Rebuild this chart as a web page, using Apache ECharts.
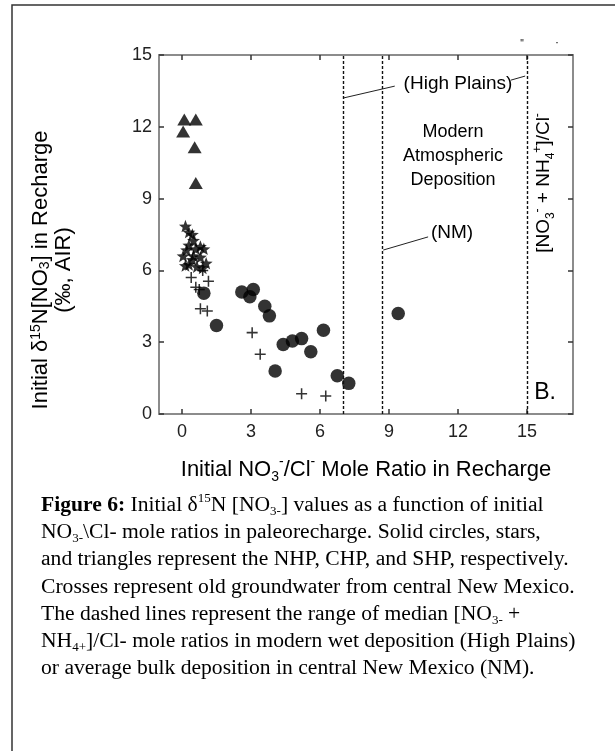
<!DOCTYPE html>
<html>
<head>
<meta charset="utf-8">
<script src="https://cdn.jsdelivr.net/npm/echarts@6/dist/echarts.min.js"></script>
<style>
html, body { margin: 0; padding: 0; background: #fff; }
#chart { width: 615px; height: 751px; }
</style>
</head>
<body>
<div id="chart"></div>
<script>
// tick labels
var xTicks = [0, 3, 6, 9, 12, 15];
var yTicks = [0, 3, 6, 9, 12, 15];

// NHP - solid circles
var nhpCircles = [
    [0.95, 5.05], [1.5, 3.7], [2.6, 5.1], [3.1, 5.2], [2.95, 4.9], [3.6, 4.5],
    [3.8, 4.1], [4.05, 1.8], [4.4, 2.9], [4.8, 3.05], [5.2, 3.15], [5.6, 2.6],
    [6.15, 3.5], [6.75, 1.6], [7.25, 1.28], [9.4, 4.2]
];
// CHP - stars
var chpStars = [
    [0.15, 7.85], [0.3, 7.6], [0.45, 7.5], [0.5, 7.25], [0.8, 7.0], [0.2, 6.85],
    [0.95, 6.9], [0.05, 6.6], [0.5, 6.6], [0.8, 6.55], [1.05, 6.3], [0.3, 6.25],
    [0.65, 6.15], [0.45, 6.45], [0.3, 7.05], [0.6, 6.9], [0.15, 6.2], [0.9, 6.1]
];
// SHP - triangles
var shpTriangles = [[0.1, 12.3], [0.6, 12.3], [0.05, 11.8], [0.55, 11.15], [0.6, 9.65]];
// central New Mexico - crosses
var nmCrosses = [
    [0.4, 5.7], [1.15, 5.55], [0.75, 5.2], [0.6, 5.3], [0.8, 4.4], [1.1, 4.3],
    [0.9, 6.0], [3.05, 3.4], [3.4, 2.5], [5.2, 0.85], [6.25, 0.75]
];
// dashed deposition ratios
var depositionLines = [7.0, 8.7, 15.0];
// leader lines for the annotations
var leaderLines = [
    [[7.0, 13.2], [9.25, 13.7]],
    [[14.3, 13.95], [14.92, 14.12]],
    [[8.75, 6.85], [10.7, 7.4]]
];

var captionLines = [
    '{b|Figure 6:}{t| Initial δ}{sup|15}{t|N [NO}{sub|3-}{t|] values as a function of initial}',
    '{t|NO}{sub|3-}{t|\\Cl- mole ratios in paleorecharge. Solid circles, stars,}',
    '{t|and triangles represent the NHP, CHP, and SHP, respectively.}',
    '{t|Crosses represent old groundwater from central New Mexico.}',
    '{t|The dashed lines represent the range of median [NO}{sub|3-}{t| +}',
    '{t|NH}{sub|4+}{t|]/Cl- mole ratios in modern wet deposition (High Plains)}',
    '{t|or average bulk deposition in central New Mexico (NM).}'
];

var sans = '"Liberation Sans", Arial, sans-serif';
var serif = '"Liberation Serif", "Times New Roman", serif';
var ink = '#222';
var frameGray = '#8c8c8c';

function richSet(family, size, color, lhScale) {
    var lh = Math.round(size * (lhScale || 1.3));
    var small = Math.round(size * 0.62);
    return {
        t: { fontFamily: family, fontSize: size, color: color, lineHeight: lh },
        b: { fontFamily: family, fontSize: size, color: color, lineHeight: lh, fontWeight: 'bold' },
        sup: { fontFamily: family, fontSize: small, color: color, lineHeight: small, verticalAlign: 'top' },
        sub: { fontFamily: family, fontSize: small, color: color, lineHeight: small, verticalAlign: 'bottom' }
    };
}

function label(text, x, y, size, opts) {
    opts = opts || {};
    return {
        type: 'text',
        x: x,
        y: y,
        rotation: opts.rotation || 0,
        silent: true,
        style: {
            text: text,
            rich: richSet(opts.family || sans, size, opts.color || ink, opts.lh),
            align: opts.align || 'center',
            verticalAlign: 'middle',
            textAlign: opts.align || 'center',
            textVerticalAlign: 'middle'
        }
    };
}

var starPath = 'path://M50,0L62.3,33L97.6,34.6L70,56.5L79.4,90.5L50,71L20.6,90.5L30,56.5L2.4,34.6L37.7,33Z';
var crossPath = 'path://M4.3,0H5.7V4.3H10V5.7H5.7V10H4.3V5.7H0V4.3H4.3Z';

var chart = echarts.init(document.getElementById('chart'));

function xAxisCfg(pos) {
    return {
        type: 'value', min: -1, max: 17, position: pos,
        axisLine: { show: true, onZero: false, lineStyle: { color: frameGray, width: 2 } },
        axisTick: { show: true, inside: true, length: 5, customValues: xTicks, lineStyle: { color: '#333', width: 1.5 } },
        axisLabel: { show: pos === 'bottom', customValues: xTicks, fontSize: 18, color: ink, fontFamily: sans, margin: 9 },
        splitLine: { show: false }
    };
}
function yAxisCfg(pos) {
    return {
        type: 'value', min: 0, max: 15, interval: 3, position: pos,
        axisLine: { show: true, onZero: false, lineStyle: { color: frameGray, width: 2 } },
        axisTick: { show: true, inside: true, length: 5, customValues: yTicks, lineStyle: { color: '#333', width: 1.5 } },
        axisLabel: { show: pos === 'left', customValues: yTicks, fontSize: 18, color: ink, fontFamily: sans, margin: 7 },
        splitLine: { show: false }
    };
}

var graphics = [
    { type: 'rect', silent: true, shape: { x: 12, y: 5, width: 700, height: 800 },
      style: { fill: 'none', stroke: '#333', lineWidth: 1.5 } },
    label('{t|Initial δ}{sup|15}{t|N[NO}{sub|3}{t|] in Recharge}\n{t|(‰, AIR)}', 52, 270, 22, { rotation: Math.PI / 2, lh: 1.05 }),
    label('{t|Initial NO}{sub|3}{sup|-}{t|/Cl}{sup|-}{t| Mole Ratio in Recharge}', 366, 470, 22),
    label('{t|[NO}{sub|3}{sup|-}{t| + NH}{sub|4}{sup|+}{t|]/Cl}{sup|-}', 544, 183, 19, { rotation: Math.PI / 2 }),
    label('{t|B.}', 545, 393, 23),
    label('{t|(High Plains)}', 458, 84, 19),
    label('{t|Modern}\n{t|Atmospheric}\n{t|Deposition}', 453, 156, 18, { lh: 1.35 }),
    label('{t|(NM)}', 452, 233, 19),
    label('{t|"}', 522, 44, 10, { color: '#555' }),
    label('{t|·}', 557, 43, 12, { color: '#555' })
];
captionLines.forEach(function (line, i) {
    graphics.push(label(line, 41, 505 + i * 27.3, 21.6, { family: serif, align: 'left', color: '#1a1a1a', lh: 1.2 }));
});

var option = {
    animation: false,
    backgroundColor: '#fff',
    grid: { left: 159, top: 55, width: 414, height: 359, containLabel: false },
    xAxis: [xAxisCfg('bottom'), xAxisCfg('top')],
    yAxis: [yAxisCfg('left'), yAxisCfg('right')],
    series: [
        {
            type: 'scatter', name: 'NHP', data: nhpCircles,
            symbol: 'circle', symbolSize: 13.5, itemStyle: { color: '#000' },
            markLine: {
                silent: true, symbol: 'none', label: { show: false },
                lineStyle: { type: [3, 2], color: '#111', width: 1.4 },
                data: depositionLines.map(function (v) { return { xAxis: v }; })
            }
        },
        { type: 'scatter', name: 'CHP', data: chpStars, symbol: starPath, symbolSize: [13, 12.5], itemStyle: { color: '#000' } },
        { type: 'scatter', name: 'SHP', data: shpTriangles, symbol: 'triangle', symbolSize: [14, 12], itemStyle: { color: '#000' } },
        { type: 'scatter', name: 'NM', data: nmCrosses, symbol: crossPath, symbolSize: 11, itemStyle: { color: '#000' } },
        {
            type: 'lines', coordinateSystem: 'cartesian2d', silent: true,
            data: leaderLines.map(function (c) { return { coords: c }; }),
            lineStyle: { color: '#222', width: 1, opacity: 1 }
        }
    ],
    graphic: graphics
};

chart.setOption(option);
</script>
</body>
</html>
